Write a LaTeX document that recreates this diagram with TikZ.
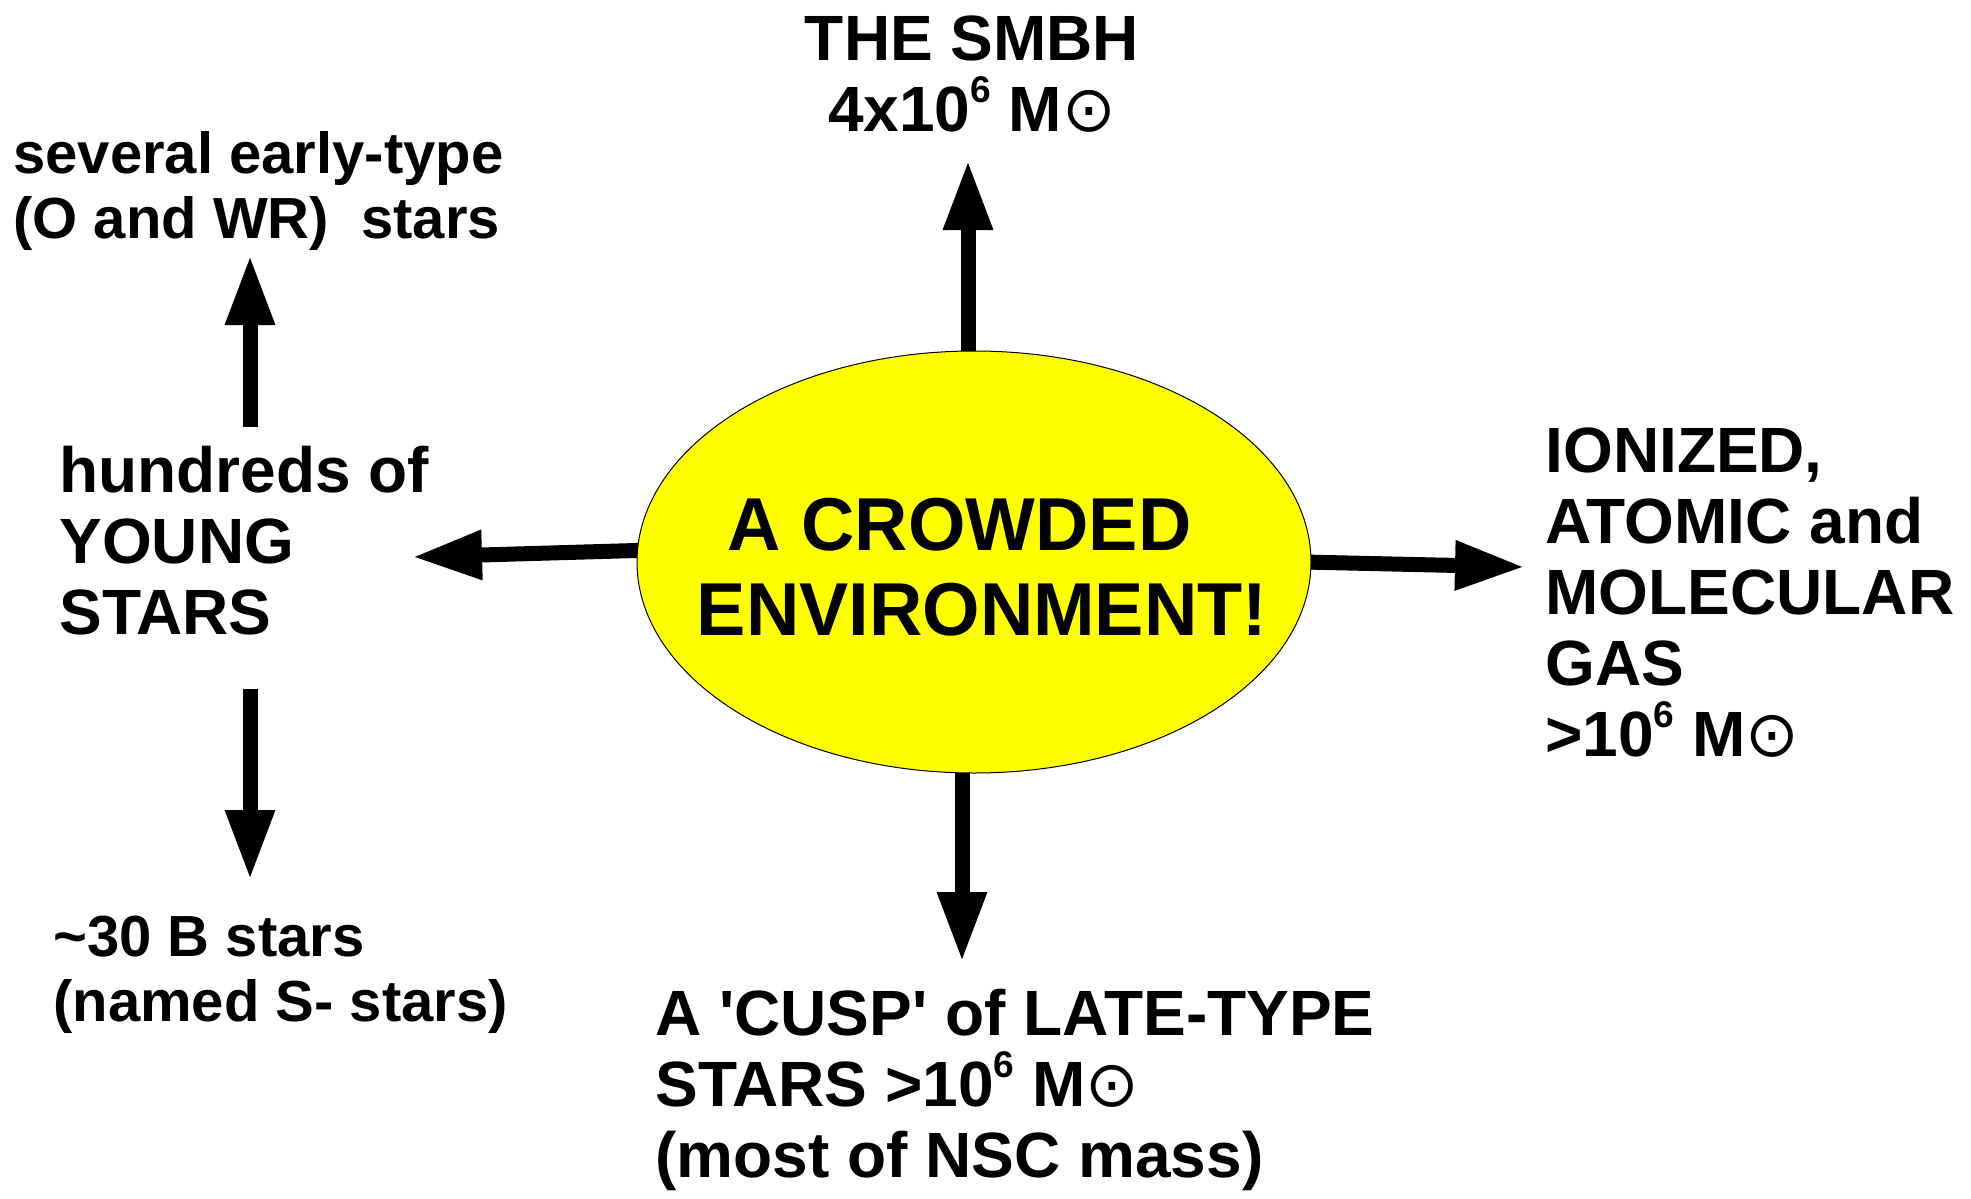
\documentclass[tikz,border=0pt]{standalone}
\usepackage{fontspec}
\setmainfont{Liberation Sans}
\newfontfamily\symbolfam{DejaVu Sans}
\newfontfamily\narrowfam{Liberation Sans}[FakeStretch=0.985]
\usetikzlibrary{arrows.meta,shapes.geometric,backgrounds}
\definecolor{hubyellow}{RGB}{255,255,0}
\newcommand{\solarsym}{{\symbolfam\mdseries ⊙}}
\newcommand{\supsm}[1]{\raisebox{0.45em}{\scalebox{0.58}{#1}}}
\begin{document}
\begin{tikzpicture}[x=0.5pt,y=-0.5pt,
  lbl/.style={inner sep=0pt, align=left, anchor=north west,
    font=\bfseries\fontsize{32pt}{35.5pt}\selectfont},
  lblsm/.style={lbl, font=\bfseries\fontsize{29pt}{32.5pt}\selectfont},
  arr/.style={line width=7.5pt, -{Triangle[length=35pt,width=23pt]}},
  hub/.style={ellipse, draw=black, line width=0.5pt, fill=hubyellow, inner sep=0pt,
    minimum width=337pt, minimum height=211pt},
  hubtext/.style={inner sep=0pt, align=left,
    font=\narrowfam\bfseries\fontsize{37.5pt}{42.5pt}\selectfont}]
\useasboundingbox (0,0) rectangle (1971,1199);

\node[hub] (ell) at (974,562) {};
\node[hubtext] (title) at (982,567) {\hspace*{15.5pt}A CROWDED\\ENVIRONMENT!};

\node[lbl, anchor=north, align=center] (smbh) at (972,15)
  {THE SMBH\\4x10\supsm{6} M\solarsym};
\node[lblsm] (early) at (13,131) {several early-type\\(O and WR)\ \ stars};
\node[lbl] (young) at (59,446) {hundreds of\\YOUNG\\STARS};
\node[lblsm] (bstars) at (53,916) {\textasciitilde30 B stars\\(named S- stars)};
\node[lbl] (gas) at (1545,427)
  {IONIZED,\\ATOMIC and\\MOLECULAR\\GAS\\>10\supsm{6} M\solarsym};
\node[lbl] (cusp) at (655,989)
  {A \textquotesingle CUSP\textquotesingle{} of LATE-TYPE\\STARS >10\supsm{6} M\solarsym\\(most of NSC mass)};

\coordinate (tipU) at (968,160);
\coordinate (tipD) at (962,962);
\coordinate (tipL) at (412,557);
\coordinate (tipR) at (1525,567);
\coordinate (yTop) at (250,427);
\coordinate (tipE) at (250,255);
\coordinate (yBot) at (250,689);
\coordinate (tipB) at (250,880);

\begin{scope}[on background layer]
\draw[arr] ([yshift=-4pt]ell.north -| tipU) -- (tipU);
\draw[arr] ([yshift=4pt]ell.south -| tipD) -- (tipD);
\draw[arr] ([xshift=4pt]ell.178) -- (tipL);
\draw[arr] ([xshift=-4pt]ell.east) -- (tipR);
\end{scope}
\draw[arr] (yTop) -- (tipE);
\draw[arr] (yBot) -- (tipB);
\end{tikzpicture}
\end{document}
